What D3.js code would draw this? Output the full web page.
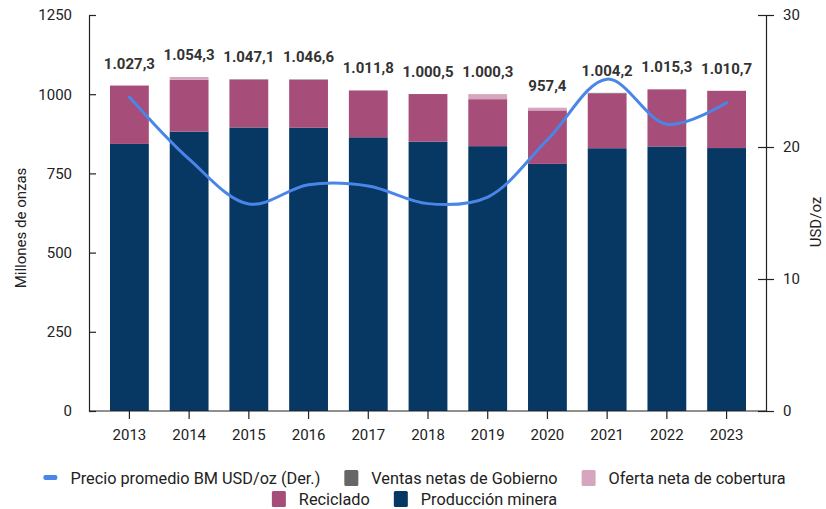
<!DOCTYPE html>
<html><head><meta charset="utf-8">
<script src="https://cdn.jsdelivr.net/npm/d3@7"></script>
<style>
html,body{margin:0;padding:0;background:#fff;}
svg{display:block;font-family:Roboto,"Noto Sans",sans-serif;}
</style></head>
<body><svg id="c" width="826" height="509"></svg>
<script>
const years = ["2013","2014","2015","2016","2017","2018","2019","2020","2021","2022","2023"];
const mining   = [843.0, 882.0, 895.0, 894.0, 864.0, 850.0, 836.0, 780.0, 829.5, 835.0, 830.0];
const recycled = [184.3, 163.3, 150.9, 151.4, 147.8, 150.5, 148.3, 168.9, 173.2, 180.3, 180.7];
const hedging  = [0, 9.0, 0, 0, 0, 0, 16.0, 8.5, 0, 0, 0];
const govt     = [0, 0, 1.2, 1.2, 0, 0, 0, 0, 1.5, 0, 0];
const totals   = [1027.3, 1054.3, 1047.1, 1046.6, 1011.8, 1000.5, 1000.3, 957.4, 1004.2, 1015.3, 1010.7];
const price    = [23.79, 19.08, 15.68, 17.14, 17.05, 15.71, 16.21, 20.55, 25.14, 21.73, 23.35];
const leftTicks = [0, 250, 500, 750, 1000, 1250];
const rightTicks = [0, 10, 20, 30];

const colors = {mining:"#073763", recycled:"#a64d79", hedging:"#d5a6bd", govt:"#666666", line:"#4a86e8"};
const svg = d3.select("#c");
const plotTop = 15, plotBottom = 411, plotLeft = 89, plotRight = 766;

const x = d3.scaleBand().domain(years).range([110, 746]).paddingInner(0.35).paddingOuter(0);
const yL = d3.scaleLinear().domain([0, 1250]).range([plotBottom, plotTop]);
const yR = d3.scaleLinear().domain([0, 30]).range([plotBottom, plotTop]);

const rows = years.map((y,i)=>({year:y, mining:mining[i], recycled:recycled[i], hedging:hedging[i], govt:govt[i]}));
const keys = ["mining","recycled","hedging","govt"];
const stack = d3.stack().keys(keys)(rows);

svg.append("g").selectAll("g").data(stack).join("g")
  .attr("fill", d=>colors[d.key])
  .selectAll("rect").data(d=>d).join("rect")
  .attr("x", d=>x(d.data.year))
  .attr("width", x.bandwidth())
  .attr("y", d=>yL(d[1]))
  .attr("height", d=>Math.max(0, yL(d[0]) - yL(d[1])));

// price line
const line = d3.line().x((d,i)=>x(years[i]) + x.bandwidth()/2).y(d=>yR(d)).curve(d3.curveCatmullRom.alpha(0.5));
svg.append("path").datum(price).attr("d", line).attr("fill","none")
  .attr("stroke", colors.line).attr("stroke-width", 3).attr("stroke-linecap","round");

// total labels
const loc = d3.formatLocale({decimal:",", thousands:".", grouping:[3], currency:["",""]});
const fmt = loc.format(",.1f");
svg.append("g").selectAll("text").data(totals).join("text")
  .attr("x", (d,i)=>x(years[i]) + x.bandwidth()/2)
  .attr("y", d=>yL(d) - 17)
  .attr("text-anchor","middle")
  .attr("font-size", 15).attr("font-weight", 700).attr("fill", "#333")
  .text(d=>fmt(d));

// axes
function styleAxis(g){
  g.selectAll("path,line").attr("stroke","#222").attr("stroke-width",1.2);
  g.selectAll("text").attr("font-size",15).attr("fill","#222").attr("font-family","Roboto,sans-serif");
}
const axL = svg.append("g").attr("transform",`translate(${plotLeft},0)`)
  .call(d3.axisLeft(yL).tickValues(leftTicks).tickFormat(d3.format("d")).tickSizeInner(8).tickSizeOuter(0).tickPadding(9));
axL.selectAll(".tick line").attr("x2", 7);
styleAxis(axL);
const axR = svg.append("g").attr("transform",`translate(${plotRight},0)`)
  .call(d3.axisRight(yR).tickValues(rightTicks).tickSizeInner(8).tickSizeOuter(0).tickPadding(9));
axR.selectAll(".tick line").attr("x2", 8).attr("x1", -8);
styleAxis(axR);
const axB = svg.append("g").attr("transform",`translate(0,${plotBottom})`)
  .call(d3.axisBottom(x).tickSizeInner(8).tickSizeOuter(0).tickPadding(10));
axB.select(".domain").attr("d", `M${plotLeft},0H${plotRight}`);
styleAxis(axB);

// axis titles
svg.append("text").attr("transform","translate(26,228) rotate(-90)").attr("text-anchor","middle")
  .attr("font-size",15).attr("fill","#222").text("Millones de onzas");
svg.append("text").attr("transform","translate(821,222) rotate(-90)").attr("text-anchor","middle")
  .attr("font-size",15).attr("fill","#222").text("USD/oz");

// legend
const legendRows = [
  [{k:"line", t:"Precio promedio BM USD/oz (Der.)"},{k:"govt", t:"Ventas netas de Gobierno"},{k:"hedging", t:"Oferta neta de cobertura"}],
  [{k:"recycled", t:"Reciclado"},{k:"mining", t:"Producción minera"}]
];
const rowY = [478, 499];
legendRows.forEach((items, r)=>{
  const g = svg.append("g");
  let cx = 0;
  items.forEach((it, j)=>{
    const ig = g.append("g").attr("transform",`translate(${cx},0)`);
    if(it.k==="line"){
      ig.append("rect").attr("x",0).attr("y",-3).attr("width",14).attr("height",5).attr("rx",2).attr("fill",colors.line);
    } else {
      ig.append("rect").attr("x",0).attr("y",-8).attr("width",14).attr("height",16).attr("rx",1.5).attr("fill",colors[it.k]);
    }
    const t = ig.append("text").attr("x",27).attr("y",6).attr("font-size",16.3).attr("fill","#222").text(it.t);
    const w = t.node().getComputedTextLength();
    cx += 27 + w + 24;
  });
  const total = cx - 24;
  g.attr("transform",`translate(${414.5 - total/2},${rowY[r]})`);
});
</script></body></html>
